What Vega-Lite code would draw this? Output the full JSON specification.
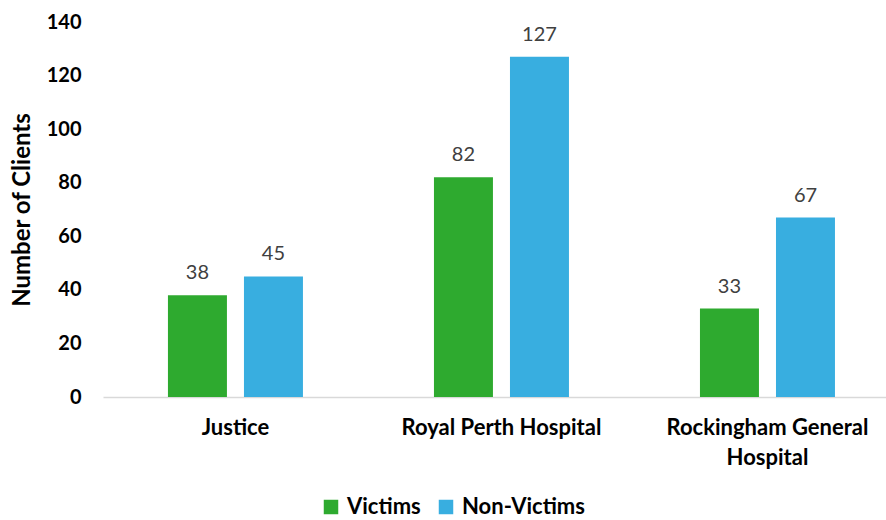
{
  "$schema": "https://vega.github.io/schema/vega-lite/v6.json",
  "width": 783,
  "height": 375,
  "autosize": "none",
  "padding": {"left": 103, "top": 22, "right": 0, "bottom": 123},
  "background": "white",
  "config": {
    "view": {"stroke": null},
    "font": "Lato"
  },
  "data": {
    "values": [
      {"site": "Justice", "group": "Victims", "count": 38},
      {"site": "Justice", "group": "Non-Victims", "count": 45},
      {"site": "Royal Perth Hospital", "group": "Victims", "count": 82},
      {"site": "Royal Perth Hospital", "group": "Non-Victims", "count": 127},
      {"site": "Rockingham General Hospital", "group": "Victims", "count": 33},
      {"site": "Rockingham General Hospital", "group": "Non-Victims", "count": 67}
    ]
  },
  "encoding": {
    "x": {
      "field": "site",
      "type": "nominal",
      "sort": ["Justice", "Royal Perth Hospital", "Rockingham General Hospital"],
      "scale": {"paddingInner": 0.4925, "paddingOuter": 0.218, "align": 0.56},
      "axis": {
        "title": null,
        "labelAngle": 0,
        "labelFontWeight": "bold",
        "labelFontSize": 22,
        "labelColor": "#000000",
        "labelPadding": 20,
        "labelLineHeight": 30,
        "labelLimit": 0,
        "labelExpr": "datum.label == 'Rockingham General Hospital' ? ['Rockingham General', 'Hospital'] : datum.label",
        "ticks": false,
        "domainColor": "#D9D9D9",
        "domainWidth": 1.5
      }
    },
    "xOffset": {
      "field": "group",
      "type": "nominal",
      "sort": ["Victims", "Non-Victims"],
      "scale": {"paddingInner": 0.224, "paddingOuter": 0}
    },
    "y": {
      "field": "count",
      "type": "quantitative",
      "scale": {"domain": [0, 140]},
      "axis": {
        "title": "Number of Clients",
        "titleFontSize": 24,
        "titleFontWeight": "bold",
        "titleColor": "#000000",
        "titlePadding": 12,
        "values": [0, 20, 40, 60, 80, 100, 120, 140],
        "labelFontSize": 20,
        "labelFontWeight": "bold",
        "labelColor": "#000000",
        "labelPadding": 22,
        "grid": false,
        "domain": false,
        "ticks": false
      }
    }
  },
  "layer": [
    {
      "mark": {"type": "bar"},
      "encoding": {
        "color": {
          "field": "group",
          "type": "nominal",
          "sort": ["Victims", "Non-Victims"],
          "scale": {"domain": ["Victims", "Non-Victims"], "range": ["#2EAA2F", "#38AEE0"]},
          "legend": {
            "title": null,
            "orient": "none",
            "legendX": 217,
            "legendY": 474,
            "direction": "horizontal",
            "symbolType": "square",
            "symbolSize": 210,
            "symbolStrokeWidth": 0,
            "labelFontSize": 22,
            "labelFontWeight": "bold",
            "labelColor": "#000000",
            "labelOffset": 5,
            "columnPadding": 14
          }
        }
      }
    },
    {
      "mark": {"type": "text", "dy": -12, "baseline": "bottom", "fontSize": 20, "color": "#404040"},
      "encoding": {
        "text": {"field": "count", "type": "quantitative"}
      }
    }
  ]
}
